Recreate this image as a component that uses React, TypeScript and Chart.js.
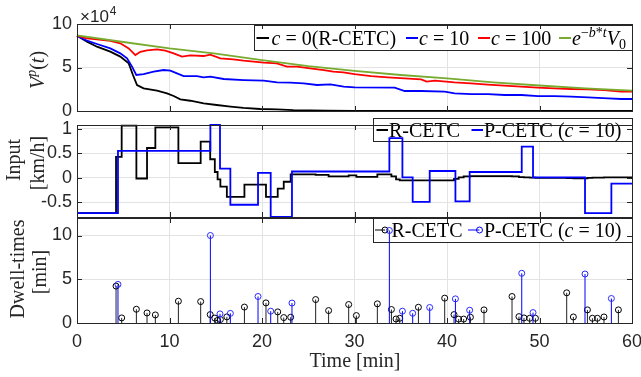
import React, { useEffect, useRef } from 'react';
import { Chart, registerables } from 'chart.js';

Chart.register(...registerables);

// ---------------- DATA ----------------
const xTicks = [0, 10, 20, 30, 40, 50, 60];

// Panel 1: V^p(t) in units of 10^4
const tC0 = [0, 1.08, 2.16, 3.6, 4.68, 5.59, 6.05, 6.49, 7.2, 8.65, 9.73, 10.45, 11.17, 12.25, 13.7, 15.1, 16.6, 18.0, 19.8, 21.6, 23.4, 25.2, 27.0, 30.0, 35.0, 40.0, 50.0, 60.0];
const vC0 = [8.66, 7.97, 7.39, 6.82, 6.25, 5.48, 4.14, 2.99, 2.6, 2.34, 2.03, 1.72, 1.34, 1.18, 0.88, 0.69, 0.5, 0.35, 0.23, 0.19, 0.11, 0.08, 0.04, 0.02, 0.01, 0.005, 0.0, 0.0];

const tC10 = [0, 1.08, 2.16, 3.6, 4.68, 5.41, 5.95, 6.41, 7.2, 8.29, 9.37, 10.09, 10.81, 11.53, 12.97, 13.69, 14.41, 15.86, 18.02, 20.18, 21.62, 23.06, 24.5, 25.95, 27.39, 28.83, 30.02, 34.34, 35.43, 37.23, 39.75, 40.83, 42.63, 44.43, 46.24, 48.04, 49.84, 51.64, 53.44, 55.25, 57.41, 58.85, 60];
const vC10 = [8.66, 8.08, 7.7, 7.2, 6.63, 6.05, 5.1, 4.14, 4.25, 4.52, 4.71, 4.64, 4.33, 4.02, 4.02, 3.87, 3.95, 3.68, 3.56, 3.49, 3.3, 3.26, 3.18, 2.99, 3.06, 2.8, 2.72, 2.68, 2.3, 2.3, 2.22, 2.03, 1.95, 1.95, 1.84, 1.84, 1.72, 1.72, 1.65, 1.57, 1.46, 1.38, 1.38];

const tC100 = [0, 1.08, 2.16, 3.6, 4.68, 5.59, 6.31, 6.85, 7.57, 8.65, 9.55, 10.45, 11.35, 12.25, 13.7, 14.4, 15.5, 16.9, 18.0, 19.1, 20.2, 21.6, 22.7, 23.8, 25.2, 26.7, 27.7, 28.8, 30.0, 31.8, 33.6, 35.4, 37.2, 37.8, 38.7, 40.8, 42.6, 44.4, 46.2, 48.0, 49.8, 51.6, 53.4, 55.2, 57.0, 58.8, 60];
const vC100 = [8.66, 8.35, 8.24, 8.05, 7.78, 7.2, 6.43, 6.8, 6.97, 7.09, 6.93, 6.63, 6.25, 6.4, 6.32, 6.47, 6.05, 5.94, 5.79, 5.67, 5.56, 5.48, 5.1, 5.1, 4.9, 4.71, 4.52, 4.45, 4.25, 4.02, 3.87, 3.75, 3.64, 3.37, 3.49, 3.3, 3.18, 3.03, 2.91, 2.8, 2.68, 2.6, 2.53, 2.49, 2.41, 2.22, 2.22];

const tRef = [0, 5, 10, 15, 20, 25, 30, 35, 40, 45, 50, 55, 60];
const vRef = [8.7, 7.93, 7.2, 6.6, 5.86, 5.17, 4.6, 4.14, 3.75, 3.3, 2.93, 2.6, 2.34];

// Panel 2 / 3: switching times, inputs [km/h] and dwell-times [min]
const inputR0 = -0.72;
const tR = [4.22, 4.83, 6.42, 7.57, 8.47, 10.96, 13.37, 14.4, 14.9, 15.2, 15.5, 16.2, 18.1, 20.43, 21.7, 22.35, 23.1, 25.8, 27.2, 29.37, 30.2, 32.47, 33.99, 34.49, 34.89, 36.91, 39.75, 40.76, 41.26, 41.8, 42.53, 44.0, 47.03, 47.78, 48.32, 48.94, 49.56, 52.94, 53.66, 55.18, 55.72, 56.26, 56.97, 58.53];
const uR = [0.43, 1.066, -0.013, 0.61, 1.03, 0.3, 0.74, 0.38, 0.12, -0.03, -0.18, -0.39, -0.14, -0.39, -0.22, -0.08, 0.07, 0.06, 0.03, 0.05, 0.02, 0.07, 0.03, -0.03, -0.05, -0.05, -0.05, -0.02, 0.01, 0.03, 0.035, 0.035, 0.03, 0.015, 0.01, 0.005, 0.0, -0.005, -0.01, 0.0, 0.005, 0.005, 0.008, 0.008];
const hR = [4.22, 0.58, 1.57, 1.15, 0.92, 2.49, 2.45, 0.96, 0.56, 0.3, 0.4, 0.7, 1.82, 2.3, 1.27, 0.62, 0.66, 2.68, 1.42, 2.11, 0.85, 2.19, 1.54, 0.46, 0.54, 1.8, 2.84, 0.96, 0.45, 0.45, 0.66, 1.5, 3.03, 0.73, 0.58, 0.54, 0.54, 3.45, 0.69, 1.5, 0.54, 0.54, 0.69, 1.5];

const inputP0 = -0.72;
const tP = [4.43, 14.42, 15.46, 16.58, 19.57, 20.94, 23.24, 33.77, 35.18, 36.29, 38.13, 40.91, 42.45, 48.08, 49.3, 54.92, 57.77];
const uP = [0.55, 1.08, 0.19, -0.55, 0.1, -0.8, 0.13, 0.81, 0.01, -0.49, 0.14, -0.48, 0.12, 0.64, 0.01, -0.72, -0.12];
const hP = [4.41, 10.0, 1.04, 1.1, 3.03, 1.35, 2.28, 10.57, 1.35, 1.11, 1.77, 2.76, 1.46, 5.68, 1.19, 5.6, 2.8];

const yTicks1 = [0, 5, 10];
const yTicks2 = [-0.5, 0, 0.5, 1];
const yTicks3 = [0, 5, 10];

// ---------------- STYLE ----------------
const W = 641, H = 377;
const PLOT_L = 77, PLOT_R = 632;
const P1 = { top: 24, bottom: 111 };
const P2 = { top: 125, bottom: 217 };
const P3 = { top: 218, bottom: 323 };
const GRID = '#e3e3e3';
const AXIS = '#262626';
const BLACK = '#000000', BLUE = '#0000ff', RED = '#ff0000', GREEN = '#77ac30';
const SANS = '"Liberation Sans", Arial, sans-serif';
const SERIF = '"Liberation Serif", "Times New Roman", serif';
const TICK_FONT = { family: SANS, size: 18 };
const TL = 5;

type Seg = { t: string; it?: boolean; s?: number; dy?: number };
const BASE = 20;
function segFont(sg: Seg, base: number) {
  return `${sg.it ? 'italic ' : ''}${sg.s ?? base}px ${SERIF}`;
}
function measureRich(ctx: CanvasRenderingContext2D, segs: Seg[], base: number) {
  let w = 0;
  for (const sg of segs) { ctx.font = segFont(sg, base); w += ctx.measureText(sg.t).width; }
  return w;
}
function drawRich(ctx: CanvasRenderingContext2D, segs: Seg[], x: number, y: number, base: number) {
  ctx.textAlign = 'left';
  ctx.textBaseline = 'alphabetic';
  let cx = x;
  for (const sg of segs) {
    ctx.font = segFont(sg, base);
    ctx.fillText(sg.t, cx, y + (sg.dy ?? 0));
    cx += ctx.measureText(sg.t).width;
  }
}
function drawRotated(ctx: CanvasRenderingContext2D, segs: Seg[], bx: number, cy: number, base: number) {
  ctx.save();
  ctx.translate(bx, cy);
  ctx.rotate(-Math.PI / 2);
  const w = measureRich(ctx, segs, base);
  drawRich(ctx, segs, -w / 2, 0, base);
  ctx.restore();
}

type LegendItem = { color: string; x0: number; x1: number; marker?: number; tx: number; segs: Seg[] };
function drawLegend(ctx: CanvasRenderingContext2D, box: { l: number; t: number; r: number; b: number }, ly: number, by: number, items: LegendItem[]) {
  ctx.save();
  ctx.fillStyle = '#ffffff';
  ctx.fillRect(box.l, box.t, box.r - box.l, box.b - box.t);
  ctx.strokeStyle = AXIS;
  ctx.lineWidth = 1;
  ctx.strokeRect(box.l + 0.5, box.t + 0.5, box.r - box.l - 1, box.b - box.t - 1);
  for (const it of items) {
    ctx.strokeStyle = it.color;
    ctx.lineWidth = it.marker !== undefined ? 1 : 2;
    ctx.beginPath();
    ctx.moveTo(it.x0, ly);
    ctx.lineTo(it.x1, ly);
    ctx.stroke();
    if (it.marker !== undefined) {
      ctx.beginPath();
      ctx.arc(it.marker, ly, 3, 0, Math.PI * 2);
      ctx.stroke();
    }
    ctx.fillStyle = '#000000';
    drawRich(ctx, it.segs, it.tx, by, BASE);
  }
  ctx.restore();
}

const sup = (t: string, it = false): Seg => ({ t, it, s: 14, dy: -8 });

const framePlugin = {
  id: 'frame',
  afterDraw(chart: any) {
    const { ctx, chartArea: a, scales } = chart;
    const ys = scales.y;
    ctx.save();
    ctx.strokeStyle = AXIS;
    ctx.lineWidth = 1;
    ctx.beginPath();
    for (const v of xTicks) {
      if (v <= 0 || v >= 60) continue;
      const x = Math.round(scales.x.getPixelForValue(v)) + 0.5;
      ctx.moveTo(x, a.bottom); ctx.lineTo(x, a.bottom - TL);
      ctx.moveTo(x, a.top); ctx.lineTo(x, a.top + TL);
    }
    for (const t of ys.ticks) {
      if (t.value <= ys.min || t.value >= ys.max) continue;
      const y = Math.round(ys.getPixelForValue(t.value)) + 0.5;
      ctx.moveTo(a.left, y); ctx.lineTo(a.left + TL, y);
      ctx.moveTo(a.right, y); ctx.lineTo(a.right - TL, y);
    }
    ctx.stroke();
    ctx.strokeRect(Math.round(a.left) + 0.5, Math.round(a.top) + 0.5, Math.round(a.right - a.left), Math.round(a.bottom - a.top));
    ctx.restore();
  },
};

function baseOptions(panel: { top: number; bottom: number }, yMin: number, yMax: number, yTicks: number[], showX: boolean) {
  return {
    responsive: false,
    animation: false,
    devicePixelRatio: 1,
    events: [],
    layout: { padding: { top: panel.top, bottom: showX ? 0 : H - panel.bottom, left: 0, right: W - PLOT_R } },
    plugins: { legend: { display: false }, tooltip: { enabled: false } },
    scales: {
      x: {
        type: 'linear', min: 0, max: 60,
        afterBuildTicks: (s: any) => { s.ticks = xTicks.map((v) => ({ value: v })); },
        grid: { color: GRID, drawTicks: false, lineWidth: 1 },
        border: { display: false },
        ticks: { display: showX, font: TICK_FONT, color: AXIS, padding: 8, maxRotation: 0, autoSkip: false, callback: (v: any) => String(v) },
        afterFit: (s: any) => { s.height = showX ? H - panel.bottom : 0; s.paddingLeft = 0; s.paddingRight = 0; },
      },
      y: {
        type: 'linear', min: yMin, max: yMax,
        afterBuildTicks: (s: any) => { s.ticks = yTicks.map((v) => ({ value: v })); },
        grid: { color: GRID, drawTicks: false, lineWidth: 1 },
        border: { display: false },
        ticks: { font: TICK_FONT, color: AXIS, padding: 5, autoSkip: false, callback: (v: any) => String(v) },
        afterFit: (s: any) => { s.width = PLOT_L; s.paddingTop = 0; s.paddingBottom = 0; },
      },
    },
  } as any;
}

const pts = (t: number[], v: number[]) => t.map((x, i) => ({ x, y: v[i] }));
const steps = (u0: number, t: number[], u: number[]) => [{ x: 0, y: u0 }, ...pts(t, u), { x: 60, y: u[u.length - 1] }];
const stems = (t: number[], h: number[]) => t.flatMap((x, i) => [{ x, y: 0 }, { x, y: h[i] }, { x, y: null as any }]);

function cfg1() {
  const opts = baseOptions(P1, 0, 10, yTicks1, false);
  const line = (label: string, data: any, color: string, order: number) => ({
    type: 'line', label, data, borderColor: color, borderWidth: 1.8, pointRadius: 0, tension: 0, order, clip: 3,
  });
  return {
    type: 'line',
    data: {
      datasets: [
        line('c = 0 (R-CETC)', pts(tC0, vC0), BLACK, 4),
        line('c = 10', pts(tC10, vC10), BLUE, 3),
        line('c = 100', pts(tC100, vC100), RED, 2),
        line('e^{-b*t} V0', pts(tRef, vRef), GREEN, 1),
      ],
    },
    options: opts,
    plugins: [
      framePlugin,
      {
        id: 'deco1',
        beforeDatasetsDraw(chart: any) {
          drawLegend(chart.ctx, { l: 254, t: 25, r: 633, b: 51 }, 38, 45, [
            { color: BLACK, x0: 256.5, x1: 269, tx: 271.5, segs: [{ t: 'c', it: true }, { t: ' = 0(R-CETC)' }] },
            { color: BLUE, x0: 406, x1: 418, tx: 419, segs: [{ t: 'c', it: true }, { t: ' = 10' }] },
            { color: RED, x0: 478, x1: 490, tx: 491, segs: [{ t: 'c', it: true }, { t: ' = 100' }] },
            { color: GREEN, x0: 559, x1: 571, tx: 572, segs: [{ t: 'e', it: true }, sup('\u2212'), sup('b', true), sup('*'), sup('t', true), { t: 'V', it: true }, { t: '0', s: 14, dy: 4 }] },
          ]);
        },
        afterDraw(chart: any) {
          const ctx = chart.ctx;
          ctx.save();
          ctx.fillStyle = AXIS;
          drawRotated(ctx, [{ t: 'V', it: true }, { t: 'p', it: true, s: 14, dy: -8 }, { t: '(' }, { t: 't', it: true }, { t: ')' }], 44, 70, BASE);
          ctx.textAlign = 'left';
          ctx.textBaseline = 'alphabetic';
          ctx.font = `17px ${SANS}`;
          ctx.fillText('\u00d710', 80, 22);
          const w = ctx.measureText('\u00d710').width;
          ctx.font = `12px ${SANS}`;
          ctx.fillText('4', 80 + w + 1, 15);
          ctx.restore();
        },
      },
    ],
  } as any;
}

function cfg2() {
  const opts = baseOptions(P2, -0.8, 1.08, yTicks2, false);
  return {
    type: 'line',
    data: {
      datasets: [
        { label: 'R-CETC', data: steps(inputR0, tR, uR), borderColor: BLACK, borderWidth: 1.8, pointRadius: 0, stepped: true, order: 2, clip: 3 },
        { label: 'P-CETC (c = 10)', data: steps(inputP0, tP, uP), borderColor: BLUE, borderWidth: 1.8, pointRadius: 0, stepped: true, order: 1, clip: 3 },
      ],
    },
    options: opts,
    plugins: [
      framePlugin,
      {
        id: 'deco2',
        beforeDatasetsDraw(chart: any) {
          drawLegend(chart.ctx, { l: 373, t: 118, r: 633, b: 142 }, 130, 136.5, [
            { color: BLACK, x0: 376.5, x1: 388, tx: 389, segs: [{ t: 'R-CETC' }] },
            { color: BLUE, x0: 471.5, x1: 483, tx: 484, segs: [{ t: 'P-CETC (' }, { t: 'c', it: true }, { t: ' = 10)' }] },
          ]);
        },
        afterDraw(chart: any) {
          const ctx = chart.ctx;
          ctx.save();
          ctx.fillStyle = AXIS;
          drawRotated(ctx, [{ t: 'Input' }], 20, 160, BASE);
          drawRotated(ctx, [{ t: '[km/h]' }], 44, 163, BASE);
          ctx.restore();
        },
      },
    ],
  } as any;
}

function cfg3() {
  const opts = baseOptions(P3, 0, 12, yTicks3, true);
  return {
    type: 'line',
    data: {
      datasets: [
        { label: 'R-CETC stems', data: stems(tR, hR), borderColor: '#222222', borderWidth: 1, pointRadius: 0, spanGaps: false, order: 4 },
        { label: 'R-CETC', data: pts(tR, hR), showLine: false, borderColor: BLACK, backgroundColor: 'rgba(0,0,0,0)', pointRadius: 3, pointBorderWidth: 1, order: 3 },
        { label: 'P-CETC stems', data: stems(tP, hP), borderColor: BLUE, borderWidth: 1, pointRadius: 0, spanGaps: false, order: 2 },
        { label: 'P-CETC (c = 10)', data: pts(tP, hP), showLine: false, borderColor: '#2a2aff', backgroundColor: 'rgba(0,0,0,0)', pointRadius: 3, pointBorderWidth: 1, order: 1 },
      ],
    },
    options: opts,
    plugins: [
      framePlugin,
      {
        id: 'deco3',
        beforeDatasetsDraw(chart: any) {
          drawLegend(chart.ctx, { l: 373, t: 218, r: 633, b: 243 }, 230, 236.5, [
            { color: BLACK, x0: 375, x1: 385, marker: 385, tx: 391.5, segs: [{ t: 'R-CETC' }] },
            { color: BLUE, x0: 468, x1: 479.5, marker: 479.5, tx: 484, segs: [{ t: 'P-CETC (' }, { t: 'c', it: true }, { t: ' = 10)' }] },
          ]);
        },
        afterDraw(chart: any) {
          const ctx = chart.ctx;
          ctx.save();
          ctx.fillStyle = AXIS;
          drawRotated(ctx, [{ t: 'Dwell-times' }], 24, 269, BASE);
          drawRotated(ctx, [{ t: '[min]' }], 46, 272, BASE);
          const segs: Seg[] = [{ t: 'Time [min]' }];
          const w = measureRich(ctx, segs, BASE);
          drawRich(ctx, segs, 355 - w / 2, 367, BASE);
          ctx.restore();
        },
      },
    ],
  } as any;
}

export default function App() {
  const r1 = useRef<HTMLCanvasElement>(null);
  const r2 = useRef<HTMLCanvasElement>(null);
  const r3 = useRef<HTMLCanvasElement>(null);
  useEffect(() => {
    document.body.style.margin = '0';
    const charts = [
      new Chart(r1.current as HTMLCanvasElement, cfg1()),
      new Chart(r2.current as HTMLCanvasElement, cfg2()),
      new Chart(r3.current as HTMLCanvasElement, cfg3()),
    ];
    return () => charts.forEach((c) => c.destroy());
  }, []);
  const st: React.CSSProperties = { position: 'absolute', left: 0, top: 0, width: W, height: H };
  return (
    <div style={{ position: 'absolute', left: 0, top: 0, width: W, height: H, background: '#ffffff', overflow: 'hidden' }}>
      <canvas ref={r1} width={W} height={H} style={st} />
      <canvas ref={r2} width={W} height={H} style={st} />
      <canvas ref={r3} width={W} height={H} style={st} />
    </div>
  );
}
